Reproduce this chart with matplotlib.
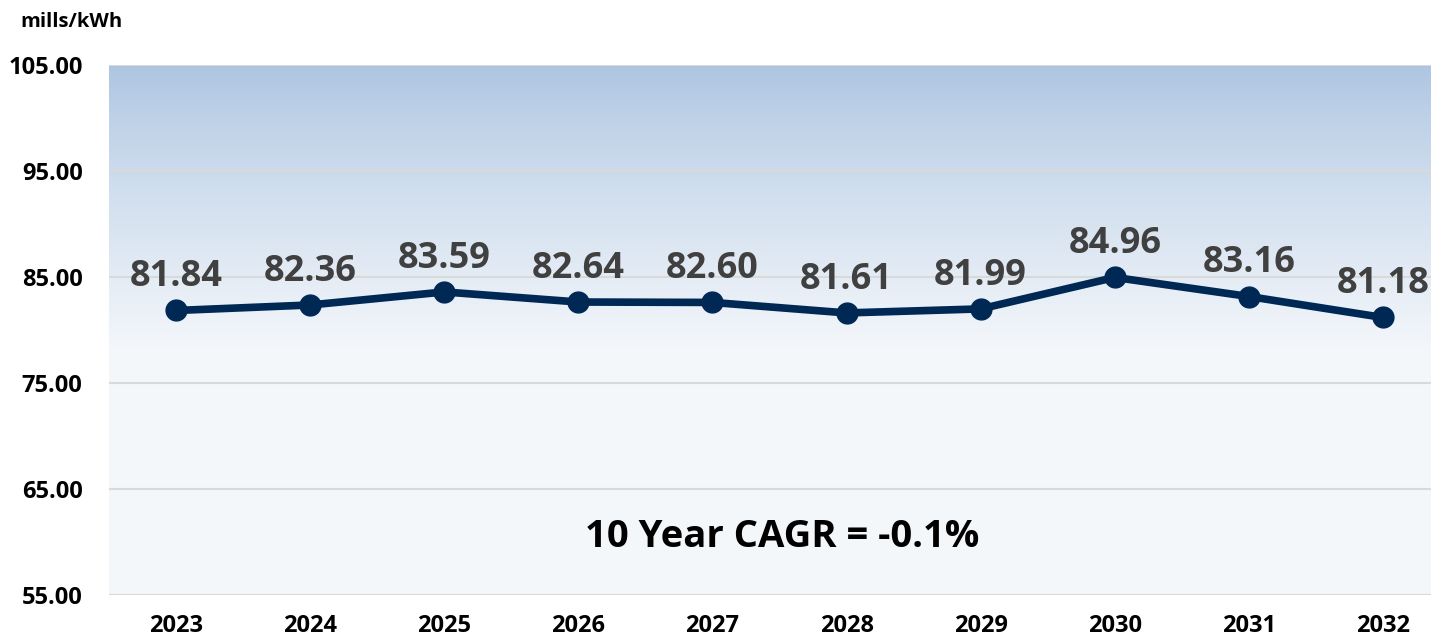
import matplotlib
matplotlib.use("Agg")
import matplotlib.pyplot as plt
import numpy as np

years = ["2023", "2024", "2025", "2026", "2027", "2028", "2029", "2030", "2031", "2032"]
values = [81.84, 82.36, 83.59, 82.64, 82.60, 81.61, 81.99, 84.96, 83.16, 81.18]
yticks = [55, 65, 75, 85, 95, 105]
unit_label = "mills/kWh"
cagr_text = "10 Year CAGR = -0.1%"

plt.rcParams['font.family'] = ['Open Sans', 'DejaVu Sans']

W, H = 1431, 640
fig = plt.figure(figsize=(W / 100, H / 100), dpi=100)
ax = fig.add_axes([109 / W, 1 - 595 / H, (1431 - 109) / W, (595 - 65) / H])

x = np.arange(len(years))
ax.set_xlim(-0.5, 9.358)
ax.set_ylim(55, 105)

# gradient background
grad_y = np.linspace(105, 55, 500)
t = np.clip((105 - grad_y) / 27.0, 0, 1)
t = t ** 0.85
top = np.array([0.678, 0.773, 0.882])
bot = np.array([0.957, 0.969, 0.984])
cols = top[None, :] * (1 - t[:, None]) + bot[None, :] * t[:, None]
img = cols[:, None, :]
ax.imshow(img, aspect='auto', extent=[-0.5, 9.358, 55, 105], origin='upper', zorder=0)

for yv in yticks:
    ax.axhline(yv, color='#D9D9D9', lw=1.5, zorder=1)

ax.plot(x, values, color='#002855', lw=5.5, marker='o', markersize=15,
        solid_capstyle='round', zorder=3)

for xi, v in zip(x, values):
    ax.annotate(f"{v:.2f}", (xi, v), xytext=(0, 11), textcoords='offset points',
                ha='center', va='bottom', fontsize=26, fontweight='bold',
                color='#404040', zorder=4)

ax.text(4.52, 60.47, cagr_text, ha='center', va='center', fontsize=27.5,
        fontweight='bold', color='black', zorder=4)

ax.set_xticks(x)
ax.set_xticklabels(years, fontsize=17, fontweight='bold', color='black')
ax.set_yticks(yticks)
ax.set_yticklabels([f"{v:.2f}" for v in yticks], fontsize=17, fontweight='bold', color='black')
ax.tick_params(axis='both', length=0)
ax.tick_params(axis='y', pad=19)
ax.tick_params(axis='x', pad=14)
for s in ax.spines.values():
    s.set_visible(False)

fig.text(20 / W, 1 - 22 / H, unit_label, ha='left', va='center', fontsize=14.5,
         fontweight='bold', color='black')

fig.savefig("out.png", dpi=100)
